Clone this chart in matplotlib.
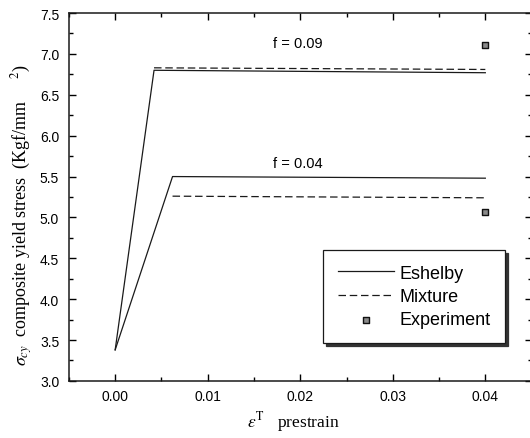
import matplotlib
matplotlib.use("Agg")
import matplotlib.pyplot as plt
from matplotlib.ticker import MultipleLocator

# ---------------------------------------------------------------------------
# Data
# ---------------------------------------------------------------------------

# f = 0.09
esh_09_x = [0.0, 0.0042, 0.040]
esh_09_y = [3.38, 6.80, 6.77]
mix_09_x = [0.0042, 0.040]
mix_09_y = [6.83, 6.81]

# f = 0.04
esh_04_x = [0.0, 0.0062, 0.040]
esh_04_y = [3.38, 5.50, 5.48]
mix_04_x = [0.0062, 0.040]
mix_04_y = [5.26, 5.24]

exp_x = [0.040, 0.040]
exp_y = [7.11, 5.07]

labels = [("f = 0.09", 0.0171, 7.13), ("f = 0.04", 0.0171, 5.66)]

SANS = ["Liberation Sans", "DejaVu Sans"]
SERIF = ["Liberation Serif", "DejaVu Serif"]

plt.rcParams["mathtext.fontset"] = "stix"

fig = plt.figure(figsize=(5.30, 4.39), dpi=100)
ax = fig.add_axes([0.130, 0.130, 0.873, 0.838])

ink = "#1a1a1a"
ax.plot(esh_09_x, esh_09_y, color=ink, lw=0.9, label="Eshelby")
ax.plot(mix_09_x, mix_09_y, color=ink, lw=0.9, ls=(0, (6, 3)), label="Mixture")
ax.plot(esh_04_x, esh_04_y, color=ink, lw=0.9)
ax.plot(mix_04_x, mix_04_y, color=ink, lw=0.9, ls=(0, (6, 3)))
ax.scatter(exp_x, exp_y, marker="s", s=22, facecolor="#8a8a8a",
           edgecolor="#111111", linewidth=1.0, zorder=3, label="Experiment")

for txt, x, y in labels:
    ax.text(x, y, txt, fontsize=10.5, family=SANS, va="center", ha="left")

ax.set_xlim(-0.005, 0.045)
ax.set_ylim(3.0, 7.5)
ax.xaxis.set_minor_locator(MultipleLocator(0.005))
ax.yaxis.set_minor_locator(MultipleLocator(0.25))
ax.set_xticks([0.0, 0.01, 0.02, 0.03, 0.04])
ax.set_xticklabels(["0.00", "0.01", "0.02", "0.03", "0.04"])
ax.set_yticks([3.0, 3.5, 4.0, 4.5, 5.0, 5.5, 6.0, 6.5, 7.0, 7.5])
ax.set_yticklabels(["3.0", "3.5", "4.0", "4.5", "5.0", "5.5", "6.0", "6.5", "7.0", "7.5"])

ax.tick_params(which="both", direction="in", top=True, right=True, width=1.0)
ax.tick_params(which="major", length=5, labelsize=10)
ax.tick_params(axis="y", which="major", pad=7)
ax.tick_params(axis="x", which="major", pad=6)
ax.tick_params(which="minor", length=3)
for lab in ax.get_xticklabels() + ax.get_yticklabels():
    lab.set_family(SANS)
for sp in ax.spines.values():
    sp.set_linewidth(1.1)
    sp.set_color(ink)

ax.set_xlabel(r"$\varepsilon^{\mathrm{T}}$   prestrain", fontsize=12.5,
              family=SERIF)
ax.xaxis.set_label_coords(0.485, -0.075)
ax.set_ylabel(r"$\sigma_{cy}$  composite yield stress  (Kgf/mm     $^{2}$)",
              fontsize=13, family=SERIF)
ax.yaxis.set_label_coords(-0.074, 0.455)

leg = ax.legend(loc="upper left", bbox_to_anchor=(0.55, 0.355),
                frameon=True, fancybox=False, shadow={"color": "#333333", "alpha": 1.0},
                edgecolor=ink, prop={"family": SANS, "size": 13},
                handlelength=3.1, handletextpad=0.3, labelspacing=0.35,
                borderpad=0.8, borderaxespad=0.0)
leg.get_frame().set_linewidth(0.9)

fig.savefig("out.png", dpi=100)
